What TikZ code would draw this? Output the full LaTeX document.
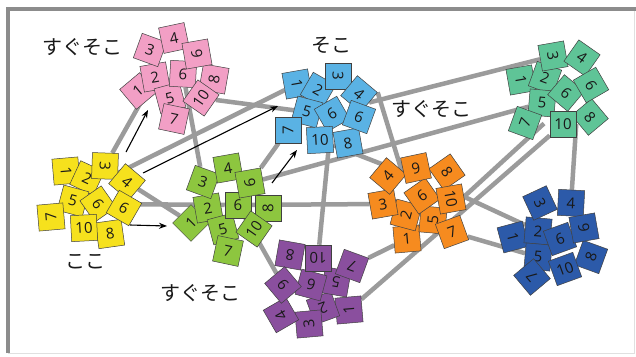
\documentclass[tikz,border=0pt]{standalone}
\usepackage{fontspec}
\newfontfamily\jpfont{Noto Sans CJK JP}
\newfontfamily\digitfont{Open Sans}
\usetikzlibrary{arrows.meta,backgrounds,calc}

\definecolor{pinkc}{HTML}{F29FC5}
\definecolor{lbluec}{HTML}{5AB2E4}
\definecolor{tealc}{HTML}{5FC497}
\definecolor{yellowc}{HTML}{F6E11D}
\definecolor{limec}{HTML}{8DC63F}
\definecolor{orangec}{HTML}{F68B1F}
\definecolor{purplec}{HTML}{8A4F9E}
\definecolor{dbluec}{HTML}{2C5AA9}
\definecolor{linkc}{HTML}{9B9B9B}

\tikzset{
  tile/.style={draw=black!75, line width=0.5pt, minimum size=26pt, inner sep=0pt,
    text=black!90, font=\digitfont\fontsize{15}{15}\selectfont},
  link/.style={draw=linkc, line width=4.5pt},
  arr/.style={draw=black, line width=1.1pt, -{Stealth[length=8pt,width=6pt]}},
  jplabel/.style={font=\jpfont\fontsize{20}{20}\selectfont, text=black!90, inner sep=0pt},
}

\begin{document}
\begin{tikzpicture}[x=1pt,y=-1pt]
\useasboundingbox (0,0) rectangle (636,356);

% pink cluster
\foreach \n/\x/\y/\r in {1/138/91/40, 2/155/77/10, 3/150/50/-20, 4/174/38/12, 5/170/98/15,
  6/183/74/-3, 7/174/119/-12, 8/214/79/80, 9/197/54/-80, 10/201/98/55}
  \node[tile, fill=pinkc, rotate=\r] (p\n) at (\x,\y) {\n};

% light blue cluster
\foreach \n/\x/\y/\r in {1/297/84/-80, 2/318/90/-30, 3/338/76/-90, 4/359/94/-40, 5/307/112/-15,
  6/332/114/30, 7/288/130/90, 8/348/143/10, 9/359/117/160, 10/320/140/3}
  \node[tile, fill=lbluec, rotate=\r] (b\n) at (\x,\y) {\n};

% teal cluster
\foreach \n/\x/\y/\r in {1/521/80/-80, 2/545/78/-20, 3/553/56/-80, 4/582/58/-35, 5/542/103/-5,
  6/566/93/-40, 7/525/123/70, 8/590/117/-50, 9/591/85/120, 10/563/124/0}
  \node[tile, fill=tealc, rotate=\r] (t\n) at (\x,\y) {\n};

% yellow cluster
\foreach \n/\x/\y/\r in {1/66/171/-85, 2/87/178/-25, 3/105/166/-92, 4/127/182/-40, 5/73/201/-15,
  6/98/204/-55, 7/51/217/95, 8/110/234/8, 9/124/208/150, 10/84/228/3}
  \node[tile, fill=yellowc, rotate=\r] (y\n) at (\x,\y) {\n};

% lime cluster
\foreach \n/\x/\y/\r in {1/191/223/45, 2/208/208/10, 3/203/182/-20, 4/228/168/10, 5/223/229/15,
  6/238/205/0, 7/228/251/-12, 8/268/208/90, 9/250/183/-80, 10/254/229/55}
  \node[tile, fill=limec, rotate=\r] (l\n) at (\x,\y) {\n};

% orange cluster
\foreach \n/\x/\y/\r in {1/407/239/5, 2/406/215/75, 3/383/204/10, 4/388/176/50, 5/433/220/85,
  6/422/196/35, 7/452/232/20, 8/447/172/-55, 9/416/168/12, 10/451/199/-80}
  \node[tile, fill=orangec, rotate=\r] (o\n) at (\x,\y) {\n};

% purple cluster
\foreach \n/\x/\y/\r in {1/349/310/95, 2/323/308/200, 3/309/324/95, 4/281/315/120, 5/336/282/170,
  6/311/285/165, 7/352/266/160, 8/290/255/170, 9/283/285/130, 10/318/258/180}
  \node[tile, fill=purplec, rotate=\r] (u\n) at (\x,\y) {\n};

% dark blue cluster
\foreach \n/\x/\y/\r in {1/513/237/-75, 2/538/231/-5, 3/540/203/-65, 4/571/203/-3, 5/538/257/-5,
  6/560/239/20, 7/532/277/130, 8/591/257/70, 9/584/228/-80, 10/565/269/20}
  \node[tile, fill=dbluec, rotate=\r] (d\n) at (\x,\y) {\n};

% page, frame and the links between clusters, all behind the tiles
\begin{pgfonlayer}{background}
  \fill[white] (0,0) rectangle (636,356);
  \draw[black!12, line width=1pt] (634,9) -- (634,353) -- (8,353);
  \draw[black!45, line width=4pt] (8,353) -- (8,9) -- (636,9);

  \draw[link] (y3) -- (p2);
  \draw[link] (p6) -- (l3);
  \draw[link] (p10) -- (b5);
  \draw[link] ($(y3)!0.5!(y4)$) -- (b1);
  \draw[link] (b4.east) -- (t3);
  \draw[link] (l9) -- (t5);
  \draw[link] (b4.north east) -- ($(o4)!0.5!(o9)$);
  \draw[link] (b10) -- ($(o4)!0.5!(o9)$);
  \draw[link] (b6) -- (u10);
  \draw[link] (b7) -- (l9);
  \draw[link] (y6) -- (l6);
  \draw[link] (l6) -- (o3);
  \draw[link] (y4) -- (l1);
  \draw[link] (l6) -- (u9);
  \draw[link] (o1) -- (u7);
  \draw[link] (u1) -- (t10);
  \draw[link] (o10.north) -- ($(t7)!0.5!(t10)$);
  \draw[link] (t10.east) -- (d4);
  \draw[link] (o10.north) -- (d2);
  \draw[link] (o7) -- (d5);
\end{pgfonlayer}

% arrows
\coordinate (a1s) at (126,152); \coordinate (a1e) at (148,110);
\coordinate (a2s) at (143,173); \coordinate (a2e) at (278,106);
\coordinate (a3s) at (130,225); \coordinate (a3e) at (167,226);
\coordinate (a4s) at (272,183); \coordinate (a4e) at (297,150);
\draw[arr] (a1s) -- (a1e);
\draw[arr] (a2s) -- (a2e);
\draw[arr] (a3s) -- (a3e);
\draw[arr] (a4s) -- (a4e);

% labels
\node[jplabel] (lab1) at (82,47) {すぐそこ};
\node[jplabel] (lab2) at (331,45) {そこ};
\node[jplabel] (lab3) at (431,109) {すぐそこ};
\node[jplabel] (lab4) at (85,262) {ここ};
\node[jplabel] (lab5) at (200,293) {すぐそこ};
\end{tikzpicture}
\end{document}
